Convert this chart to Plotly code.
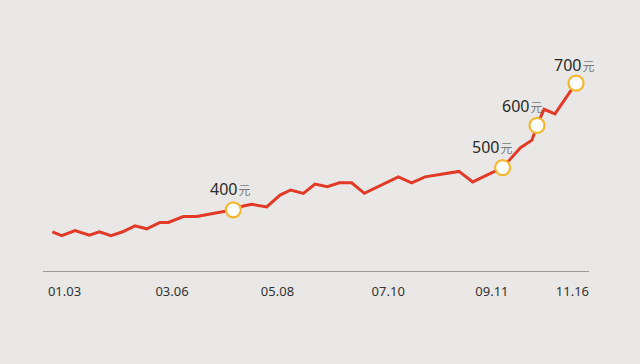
import plotly.graph_objects as go

# time position (weeks from 01.03) and price (元)
t = [-1.06, -0.24, 0.91, 2.16, 3.03, 4.04, 5.06, 6.13, 7.15, 8.30, 9.03, 10.33,
     11.50, 12.65, 13.96, 14.68, 15.55, 16.28, 17.58, 18.74, 19.67, 20.77, 21.78,
     22.85, 23.90, 24.97, 26.07, 29.03, 30.19, 31.35, 34.30, 35.50, 38.10, 39.65,
     40.65, 41.09, 41.70, 42.65, 44.48]
price = [348, 339, 351, 340, 348, 339, 348, 362, 355, 370, 370, 384,
         384, 390, 396, 400, 409, 413, 407, 435, 447, 439, 461,
         455, 464, 464, 439, 478, 464, 478, 491, 466, 500, 547,
         565, 600, 638, 627, 700]

highlight_idx = [15, 32, 35, 38]
highlight_labels = ["400", "500", "600", "700"]
label_xshift = [-3, -10, -15, -2]
label_yshift = [21, 21, 19, 18]

tick_vals = [0, 9.35, 18.52, 28.15, 37.17, 44.17]
tick_text = ["01.03", "03.06", "05.08", "07.10", "09.11", "11.16"]

bg = "#E9E8E6"
fig = go.Figure()
fig.add_trace(go.Scatter(x=t, y=price, mode="lines",
                         line=dict(color="#E23A27", width=3), hoverinfo="skip"))
fig.add_trace(go.Scatter(x=[t[i] for i in highlight_idx], y=[price[i] for i in highlight_idx],
                         mode="markers",
                         marker=dict(size=15, color="white", line=dict(color="#F5B731", width=2.2)),
                         hoverinfo="skip"))

for i, lab, xs, ys in zip(highlight_idx, highlight_labels, label_xshift, label_yshift):
    fig.add_annotation(x=t[i], y=price[i], xref="x", yref="y",
                       text=(f"{lab}<span style='font-size:4px'> </span>"
                             f"<span style='font-size:12px;fill:#7a7a7a'>元</span>"),
                       showarrow=False, xshift=xs, yshift=ys,
                       font=dict(family="Noto Sans, Noto Sans CJK SC", size=16, color="#2b2b2b"))

fig.update_layout(
    width=640, height=364,
    margin=dict(l=43, r=51, t=40, b=93),
    paper_bgcolor=bg, plot_bgcolor=bg,
    showlegend=False,
    font=dict(family="Noto Sans, Noto Sans CJK SC", color="#333333"),
)
fig.update_xaxes(range=[-1.87, 45.61], showgrid=False, zeroline=False,
                 showline=True, linecolor="#9c9c9c", linewidth=1.2,
                 tickmode="array", tickvals=tick_vals, ticktext=tick_text,
                 ticks="outside", ticklen=8, tickcolor=bg,
                 tickfont=dict(size=13, color="#333333"))
fig.update_yaxes(range=[255.1, 802.2], visible=False, showgrid=False, zeroline=False)

fig.write_html("out.html")
